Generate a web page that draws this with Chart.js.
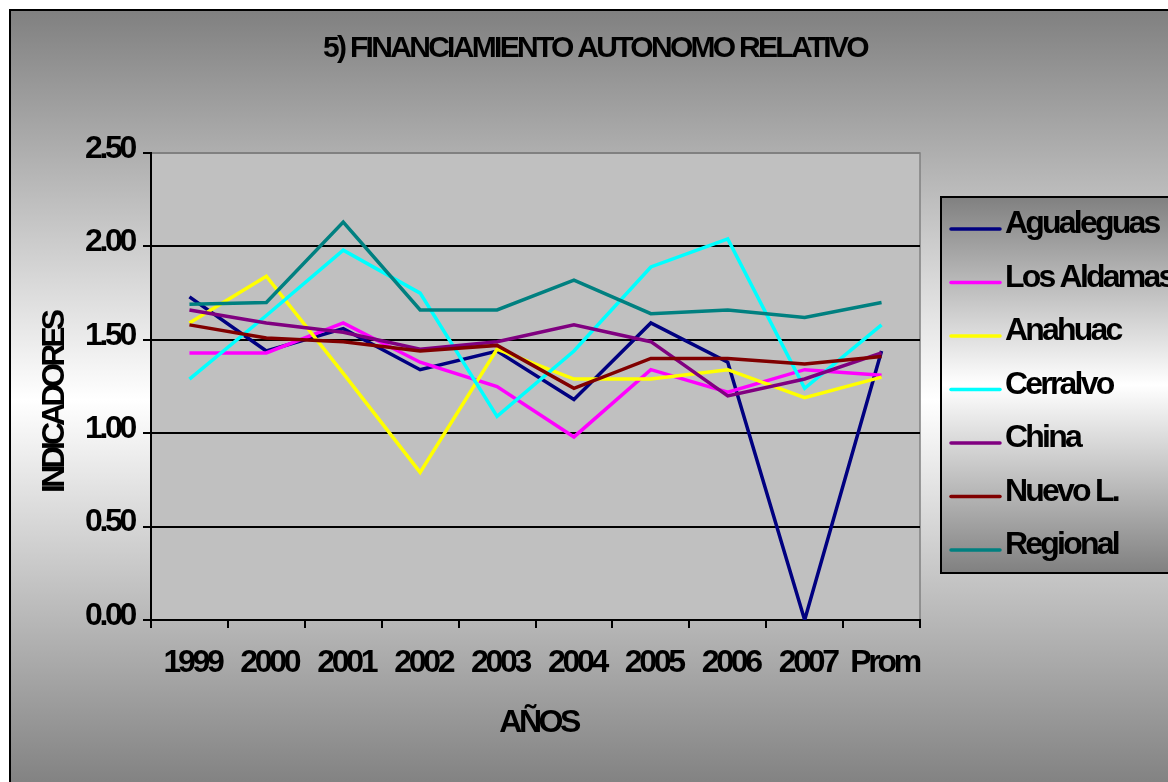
<!DOCTYPE html>
<html>
<head>
<meta charset="utf-8">
<script src="https://cdn.jsdelivr.net/npm/chart.js@4.4.1/dist/chart.umd.min.js"></script>
<style>
html,body{margin:0;padding:0;background:#fff;}
canvas{display:block;}
</style>
</head>
<body>
<canvas id="c" width="1168" height="782"></canvas>
<script>
const categories = ['1999','2000','2001','2002','2003','2004','2005','2006','2007','Prom'];
const seriesNames = ['Agualeguas','Los Aldamas','Anahuac','Cerralvo','China','Nuevo L.','Regional'];
const agualeguas = [1.73,1.44,1.56,1.34,1.44,1.18,1.59,1.38,0.00,1.44];
const losAldamas = [1.43,1.43,1.59,1.38,1.25,0.98,1.34,1.22,1.34,1.31];
const anahuac    = [1.59,1.84,1.32,0.79,1.45,1.29,1.29,1.34,1.19,1.30];
const cerralvo   = [1.29,1.63,1.98,1.75,1.09,1.44,1.89,2.04,1.24,1.58];
const china      = [1.66,1.59,1.54,1.45,1.49,1.58,1.49,1.20,1.29,1.43];
const nuevoL     = [1.58,1.51,1.49,1.44,1.47,1.24,1.40,1.40,1.37,1.41];
const regional   = [1.69,1.70,2.13,1.66,1.66,1.82,1.64,1.66,1.62,1.70];
const seriesValues = [agualeguas,losAldamas,anahuac,cerralvo,china,nuevoL,regional];
const seriesColors = ['#000080','#FF00FF','#FFFF00','#00FFFF','#800080','#800000','#008080'];

const chartTitle = '5) FINANCIAMIENTO AUTONOMO RELATIVO';
const xTitle = 'AÑOS';
const yTitle = 'INDICADORES';

const FONT = "'Liberation Sans', Arial, sans-serif";
const SPACING = '-3.3px';

const decorPlugin = {
  id: 'decor',
  beforeUpdate(c){ c.ctx.letterSpacing = SPACING; },
  beforeDraw(c){
    const ctx = c.ctx;
    const W = c.width, H = c.height;
    ctx.save();
    ctx.fillStyle = '#fff';
    ctx.fillRect(0,0,W,H);
    const g = ctx.createLinearGradient(0,10,0,790);
    g.addColorStop(0,'#808080');
    g.addColorStop(0.5,'#ffffff');
    g.addColorStop(1,'#808080');
    ctx.fillStyle = g;
    ctx.fillRect(10,10,W+20,H+20);
    ctx.lineWidth = 2;
    ctx.strokeStyle = '#000';
    ctx.strokeRect(10,10,W+20,H+20);
    const a = c.chartArea;
    ctx.fillStyle = '#C0C0C0';
    ctx.fillRect(a.left,a.top,a.right-a.left,a.bottom-a.top);
    ctx.strokeStyle = '#808080';
    ctx.lineWidth = 1.5;
    ctx.beginPath();
    ctx.moveTo(a.left,a.top); ctx.lineTo(a.right,a.top); ctx.lineTo(a.right,a.bottom);
    ctx.stroke();
    ctx.restore();
    ctx.letterSpacing = SPACING;
  },
  afterDraw(c){
    const ctx = c.ctx;
    const a = c.chartArea;
    ctx.save();
    ctx.fillStyle = '#000';
    // title
    ctx.letterSpacing = '-2.7px';
    ctx.font = 'bold 30px ' + FONT;
    ctx.textAlign = 'center';
    ctx.textBaseline = 'middle';
    ctx.fillText(chartTitle, 595, 49);
    // axis titles
    ctx.letterSpacing = '-3.5px';
    ctx.font = 'bold 32px ' + FONT;
    ctx.fillText(xTitle, (a.left+a.right)/2 + 3, 723);
    ctx.save();
    ctx.translate(55, 403);
    ctx.rotate(-Math.PI/2);
    ctx.letterSpacing = '-4px';
    ctx.fillText(yTitle, 0, 0);
    ctx.restore();
    // legend
    const lx = 941, ly = 197, lw = 260, lh = 376;
    const lg = ctx.createLinearGradient(0,ly,0,ly+lh);
    lg.addColorStop(0,'#808080');
    lg.addColorStop(0.5,'#ffffff');
    lg.addColorStop(1,'#808080');
    ctx.fillStyle = lg;
    ctx.fillRect(lx,ly,lw,lh);
    ctx.lineWidth = 2;
    ctx.strokeStyle = '#000';
    ctx.strokeRect(lx,ly,lw,lh);
    ctx.font = 'bold 32px ' + FONT;
    ctx.letterSpacing = '-2.8px';
    ctx.textAlign = 'left';
    ctx.textBaseline = 'alphabetic';
    c.data.datasets.forEach((ds,i)=>{
      const y = 229 + i*53.5;
      ctx.strokeStyle = ds.borderColor;
      ctx.lineWidth = 3.5;
      ctx.lineCap = 'round';
      ctx.beginPath();
      ctx.moveTo(951,y); ctx.lineTo(1000,y);
      ctx.stroke();
      ctx.fillStyle = '#000';
      ctx.fillText(ds.label, 1005, y + 4);
    });
    ctx.restore();
  }
};

const datasets = seriesNames.map((name,i)=>({
  label: name,
  data: seriesValues[i],
  borderColor: seriesColors[i],
  backgroundColor: seriesColors[i],
  borderWidth: 3.5,
  pointRadius: 0,
  tension: 0,
  fill: false,
  order: seriesNames.length - i
}));

new Chart(document.getElementById('c'), {
  type: 'line',
  data: { labels: categories, datasets },
  plugins: [decorPlugin],
  options: {
    responsive: false,
    animation: false,
    devicePixelRatio: 1,
    layout: { padding: { left: 0, top: 153, right: 248, bottom: 0 } },
    plugins: { legend: { display: false }, title: { display: false }, tooltip: { enabled: false } },
    scales: {
      x: {
        type: 'category',
        offset: true,
        grid: { offset: true, drawOnChartArea: false, drawTicks: true, tickLength: 8, color: '#000', lineWidth: 2 },
        border: { color: '#000', width: 2 },
        ticks: { color: '#000', font: { family: FONT, size: 32, weight: 'bold' }, padding: 16, labelOffset: 3, maxRotation: 0, autoSkip: false },
        afterFit(s){ s.height = 162; }
      },
      y: {
        min: 0, max: 2.5,
        grid: { color: (ctx)=> (ctx.tick && ctx.tick.value === 2.5) ? '#808080' : '#000', tickColor: '#000', lineWidth: 2, tickLength: 8 },
        border: { color: '#000', width: 2 },
        ticks: { stepSize: 0.5, color: '#000', font: { family: FONT, size: 32, weight: 'bold' }, padding: 9, labelOffset: -4,
          callback: (v)=> Number(v).toFixed(2) },
        afterFit(s){ s.width = 151; }
      }
    }
  }
});
</script>
</body>
</html>
